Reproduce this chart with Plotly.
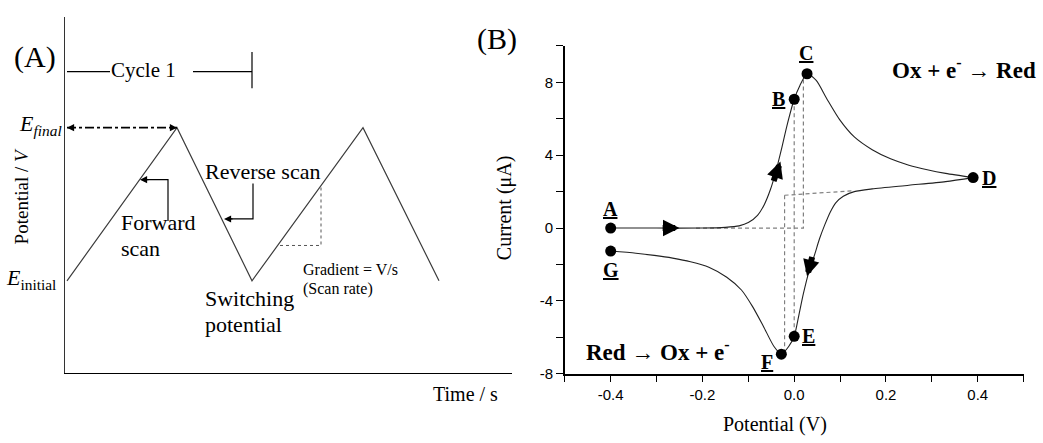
import plotly.graph_objects as go

W, H = 1043, 443
SERIF = "Liberation Serif, Times New Roman, serif"
SANS = "Liberation Sans, Arial, sans-serif"

# ---------------- Panel A data (arbitrary units) ----------------
scan_time = [0.02, 1.12, 1.87, 2.98, 3.74]
scan_potential = [0.94, 2.50, 0.94, 2.50, 0.94]
e_initial = 0.94
e_final = 2.50
cycle_level = 3.07
cycle_start, cycle_gap_a, cycle_gap_b, cycle_end = 0.02, 0.45, 1.28, 1.87
cycle_tick = [2.90, 3.27]
fwd_bracket_t = [1.03, 1.03, 0.80]
fwd_bracket_E = [1.55, 1.97, 1.97]
fwd_tip = (0.75, 1.97)
rev_bracket_t = [1.88, 1.88, 1.65]
rev_bracket_E = [1.93, 1.57, 1.57]
rev_tip = (1.59, 1.57)
grad_t = [2.15, 2.56, 2.56]
grad_E = [1.30, 1.30, 1.89]

# ---------------- Panel B data (cyclic voltammogram) ----------------
forward_E = [-0.40, -0.30, -0.20, -0.15, -0.12, -0.10, -0.08, -0.065, -0.052, -0.04, -0.028,
             -0.016, 0.0, 0.012, 0.028, 0.048, 0.071, 0.099, 0.131, 0.17, 0.21,
             0.25, 0.29, 0.33, 0.39]
forward_I = [0.0, 0.0, 0.0, 0.04, 0.12, 0.3, 0.7, 1.3, 2.1, 3.1, 4.3,
             5.6, 7.07, 7.8, 8.47, 8.1, 7.1, 5.95, 5.0, 4.3, 3.8,
             3.45, 3.2, 3.0, 2.77]
reverse_E = [0.39, 0.33, 0.25, 0.17, 0.131, 0.107, 0.091, 0.079, 0.067, 0.055,
             0.044, 0.032, 0.02, 0.01, 0.0, -0.012, -0.028, -0.044, -0.067, -0.091,
             -0.115, -0.147, -0.186, -0.226, -0.265, -0.305, -0.345, -0.40]
reverse_I = [2.77, 2.55, 2.35, 2.15, 2.0, 1.75, 1.4, 0.9, 0.2, -0.6,
             -1.5, -2.4, -3.6, -4.8, -5.94, -6.5, -6.92, -6.5, -5.4, -4.3,
             -3.4, -2.7, -2.15, -1.85, -1.65, -1.5, -1.38, -1.26]
point_labels = ["A", "B", "C", "D", "E", "F", "G"]
point_E = [-0.40, 0.0, 0.028, 0.39, 0.0, -0.028, -0.40]
point_I = [0.0, 7.07, 8.47, 2.77, -5.94, -6.92, -1.26]
guide_E = [-0.214, 0.02, 0.02, None, 0.0, 0.0, None, -0.021, -0.021, None, -0.021, 0.13]
guide_I = [0.0, 0.0, 8.4, None, 7.07, -5.94, None, 1.8, -6.92, None, 1.8, 2.05]
# direction arrows: (head_E, head_I, tail_E, tail_I)
scan_arrows = [(-0.250, 0.0, -0.290, 0.0),
               (-0.030, 3.65, -0.046, 2.50),
               (0.028, -2.65, 0.040, -1.50)]
x_tick_vals = [-0.4, -0.2, 0.0, 0.2, 0.4]
x_tick_text = ["-0.4", "-0.2", "0.0", "0.2", "0.4"]
x_minor_vals = [-0.5, -0.3, -0.1, 0.1, 0.3, 0.5]
y_tick_vals = [-8, -4, 0, 4, 8]
y_tick_text = ["-8", "-4", "0", "4", "8"]
y_minor_vals = [-6, -2, 2, 6, 10]

# label offsets in pixels (layout)
label_shift = {"A": (0, 19), "B": (-16, 0), "C": (-1, 21), "D": (16, 0),
               "E": (14, 0), "F": (-14, -8), "G": (0, -19)}


def px(x):
    return x / W


def py(y):
    return 1 - y / H


def txt(text, x, y, size, xanchor="center", yanchor="middle", angle=0, family=SERIF):
    return dict(text=text, x=px(x), y=py(y), xref="paper", yref="paper", showarrow=False,
                font=dict(family=family, size=size, color="black"),
                xanchor=xanchor, yanchor=yanchor, textangle=angle)


fig = go.Figure()

# ---- Panel A traces ----
A = dict(xaxis="x2", yaxis="y2", mode="lines", hoverinfo="skip", showlegend=False)
fig.add_trace(go.Scatter(x=scan_time, y=scan_potential, line=dict(color="#3c3c3c", width=1.2), **A))
fig.add_trace(go.Scatter(x=[scan_time[0], scan_time[1]], y=[e_final, e_final],
                         line=dict(color="black", width=1.6, dash="dashdot"), **A))
fig.add_trace(go.Scatter(x=[cycle_start, cycle_gap_a, None, cycle_gap_b, cycle_end, None, cycle_end, cycle_end],
                         y=[cycle_level, cycle_level, None, cycle_level, cycle_level, None, cycle_tick[0], cycle_tick[1]],
                         line=dict(color="black", width=1.2), **A))
fig.add_trace(go.Scatter(x=fwd_bracket_t, y=fwd_bracket_E, line=dict(color="black", width=1.2), **A))
fig.add_trace(go.Scatter(x=rev_bracket_t, y=rev_bracket_E, line=dict(color="black", width=1.2), **A))
fig.add_trace(go.Scatter(x=grad_t, y=grad_E, line=dict(color="#555555", width=1, dash="dot"), **A))

# ---- Panel B traces ----
B = dict(xaxis="x", yaxis="y", hoverinfo="skip", showlegend=False)
fig.add_trace(go.Scatter(x=guide_E, y=guide_I, mode="lines",
                         line=dict(color="#808080", width=1.2, dash="4px,3px"), **B))
fig.add_trace(go.Scatter(x=forward_E, y=forward_I, mode="lines",
                         line=dict(color="#222222", width=1.1, shape="spline", smoothing=0.7), **B))
fig.add_trace(go.Scatter(x=reverse_E, y=reverse_I, mode="lines",
                         line=dict(color="#222222", width=1.1, shape="spline", smoothing=0.7), **B))
fig.add_trace(go.Scatter(x=point_E, y=point_I, mode="markers",
                         marker=dict(color="black", size=11), **B))

ann = []
# point labels
for lab, e, i in zip(point_labels, point_E, point_I):
    dx, dy = label_shift[lab]
    ann.append(dict(text="<b><u>%s</u></b>" % lab, x=e, y=i, xref="x", yref="y",
                    xshift=dx, yshift=dy, showarrow=False,
                    font=dict(family=SERIF, size=20, color="black")))
# scan direction arrows (block style)
for he, hi, te, ti in scan_arrows:
    ann.append(dict(x=he, y=hi, ax=te, ay=ti, xref="x", yref="y", axref="x", ayref="y",
                    text="", showarrow=True, arrowhead=2, arrowsize=0.55, arrowwidth=6,
                    arrowcolor="black", standoff=0))
# panel A arrowheads
for (hx, hy), (tx, ty) in [((scan_time[0], e_final), (scan_time[0] + 0.08, e_final)),
                           ((scan_time[1], e_final), (scan_time[1] - 0.08, e_final)),
                           (fwd_tip, (fwd_tip[0] + 0.10, fwd_tip[1])),
                           (rev_tip, (rev_tip[0] + 0.10, rev_tip[1]))]:
    ann.append(dict(x=hx, y=hy, ax=tx, ay=ty, xref="x2", yref="y2", axref="x2", ayref="y2",
                    text="", showarrow=True, arrowhead=2, arrowsize=1.1, arrowwidth=1.3,
                    arrowcolor="black", standoff=0))

# panel A texts
ann += [
    txt("(A)", 35, 58, 30),
    txt("Cycle 1", 143, 71, 21),
    txt("<i>E<sub>final</sub></i>", 64, 127, 22, xanchor="right"),
    txt("<i>E</i><sub>initial</sub>", 58, 284, 22, xanchor="right"),
    txt("Potential / <i>V</i>", 21, 200, 19, angle=-90),
    txt("Forward", 119, 227, 22, xanchor="left"),
    txt("scan", 119, 253, 22, xanchor="left"),
    txt("Reverse scan", 203, 175, 22, xanchor="left"),
    txt("Switching", 203, 304, 22, xanchor="left"),
    txt("potential", 203, 330, 22, xanchor="left"),
    txt("Gradient = V/s", 301, 274, 16, xanchor="left"),
    txt("(Scan rate)", 301, 294, 16, xanchor="left"),
    txt("Time / s", 431, 401, 20, xanchor="left"),
]
# panel B texts
ann += [
    txt("(B)", 497, 40, 30),
    txt("Current (μA)", 504, 212, 20, angle=-90),
    txt("Potential (V)", 775, 432, 20),
    txt("<b>Ox + e<sup>-</sup> → Red</b>", 964, 70, 23),
    txt("<b>Red → Ox + e<sup>-</sup></b>", 658, 357, 23),
]

axis_common = dict(showgrid=False, zeroline=False, showline=True, linecolor="black", linewidth=1.5)
fig.update_layout(
    width=W, height=H, margin=dict(l=0, r=0, t=0, b=0),
    paper_bgcolor="white", plot_bgcolor="white", showlegend=False,
    xaxis=dict(domain=[px(564.8), px(1023.6)], range=[-0.5, 0.5], anchor="y",
               tickmode="array", tickvals=x_tick_vals, ticktext=x_tick_text,
               ticks="outside", ticklen=6, tickwidth=1.3, tickcolor="black",
               minor=dict(tickmode="array", tickvals=x_minor_vals, ticks="outside",
                          ticklen=6, tickwidth=1.3, tickcolor="black"),
               tickfont=dict(family=SANS, size=15, color="black"), **axis_common),
    yaxis=dict(domain=[py(380.7), py(46.7)], range=[-8, 10], anchor="x",
               tickmode="array", tickvals=y_tick_vals, ticktext=y_tick_text,
               ticks="outside", ticklen=7, tickwidth=1.3, tickcolor="black",
               minor=dict(tickmode="array", tickvals=y_minor_vals, ticks="outside",
                          ticklen=7, tickwidth=1.3, tickcolor="black"),
               tickfont=dict(family=SANS, size=15, color="black"), **axis_common),
    xaxis2=dict(domain=[px(65), px(512)], range=[0, 4.47], anchor="y2",
                showticklabels=False, ticks="", showgrid=False, zeroline=False,
                showline=True, linecolor="black", linewidth=1.3),
    yaxis2=dict(domain=[py(380), py(17)], range=[0, 3.63], anchor="x2",
                showticklabels=False, ticks="", showgrid=False, zeroline=False,
                showline=True, linecolor="#333333", linewidth=1.3),
    annotations=ann,
)

fig.write_html("out.html")
